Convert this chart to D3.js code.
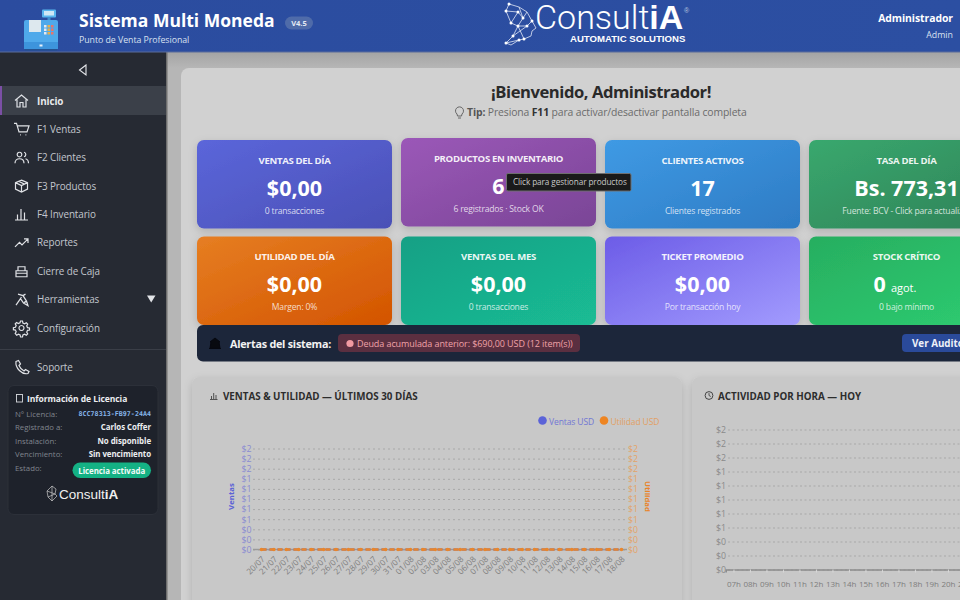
<!DOCTYPE html>
<html>
<head>
<meta charset="utf-8">
<script src="https://cdn.jsdelivr.net/npm/d3@7"></script>
<style>
html, body { margin: 0; padding: 0; background: #d0d0d0; overflow: hidden; }
svg { display: block; font-family: "Open Sans", "Noto Sans", sans-serif; }
</style>
</head>
<body>
<script>
// chart data
var fechas = ["20/07","21/07","22/07","23/07","24/07","25/07","26/07","27/07","28/07","29/07","30/07","31/07","01/08","02/08","03/08","04/08","05/08","06/08","07/08","08/08","09/08","10/08","11/08","12/08","13/08","14/08","15/08","16/08","17/08","18/08"];
var ventasUsd = [0,0,0,0,0,0,0,0,0,0,0,0,0,0,0,0,0,0,0,0,0,0,0,0,0,0,0,0,0,0];
var utilidadUsd = [0,0,0,0,0,0,0,0,0,0,0,0,0,0,0,0,0,0,0,0,0,0,0,0,0,0,0,0,0,0];
var horas = ["07h","08h","09h","10h","11h","12h","13h","14h","15h","16h","17h","18h","19h","20h","21h","22h"];
var actividadHora = [0,0,0,0,0,0,0,0,0,0,0,0,0,0,0,0];
var yTicks = [0,0.2,0.4,0.6,0.8,1,1.2,1.4,1.6,1.8,2];

// dashboard cards
var cardTitles = ["VENTAS DEL DÍA","PRODUCTOS EN INVENTARIO","CLIENTES ACTIVOS","TASA DEL DÍA","UTILIDAD DEL DÍA","VENTAS DEL MES","TICKET PROMEDIO","STOCK CRÍTICO"];
var cardValues = ["$0,00","6","17","Bs. 773,31","$0,00","$0,00","$0,00","0"];
var cardSubs = ["0 transacciones","6 registrados · Stock OK","Clientes registrados","Fuente: BCV - Click para actualizar","Margen: 0%","0 transacciones","Por transacción hoy","0 bajo mínimo"];
var cardFrom = ["#5b66da","#9b58b8","#3f9ae4","#39a86e","#e67e22","#17a085","#6c5ce7","#27ae60"];
var cardTo = ["#4a50b6","#7a4596","#2e7bc4","#2f8258","#d35400","#1abc94","#a29bfe","#2ecc71"];

// sidebar
var menuItems = ["Inicio","F1 Ventas","F2 Clientes","F3 Productos","F4 Inventario","Reportes","Cierre de Caja","Herramientas","Configuración"];
var licLabels = ["N° Licencia:","Registrado a:","Instalación:","Vencimiento:","Estado:"];
var licValues = ["8CC78313-FB97-24A4","Carlos Coffer","No disponible","Sin vencimiento","Licencia activada"];

var svg = d3.select("body").append("svg").attr("width", 960).attr("height", 600);
var defs = svg.append("defs");

function txt(parent, x, y, s, size, color, weight, anchor, spacing) {
  return parent.append("text")
    .attr("x", x).attr("y", y)
    .attr("font-size", size)
    .attr("fill", color)
    .attr("font-weight", weight || 400)
    .attr("text-anchor", anchor || "start")
    .attr("letter-spacing", spacing || null)
    .text(s);
}

function gradient(id, from, to, x2, y2) {
  var g = defs.append("linearGradient").attr("id", id)
    .attr("x1", 0).attr("y1", 0).attr("x2", x2).attr("y2", y2);
  g.append("stop").attr("offset", 0).attr("stop-color", from);
  g.append("stop").attr("offset", 1).attr("stop-color", to);
}

var shadow = defs.append("filter").attr("id", "soft")
  .attr("x", "-10%").attr("y", "-10%").attr("width", "120%").attr("height", "125%");
shadow.append("feDropShadow").attr("dx", 0).attr("dy", 3).attr("stdDeviation", 4)
  .attr("flood-color", "#000").attr("flood-opacity", 0.16);

gradient("topShade", "#a4a4a4", "#b6b6b6", 0, 1);

// background
svg.append("rect").attr("x", 167).attr("y", 52).attr("width", 793).attr("height", 548).attr("fill", "#b6b6b6");
svg.append("rect").attr("x", 167).attr("y", 52).attr("width", 793).attr("height", 16).attr("fill", "url(#topShade)");
svg.append("rect").attr("x", 181).attr("y", 68).attr("width", 800).attr("height", 560).attr("rx", 8).attr("fill", "#d1d1d1");

// welcome
txt(svg, 601, 98, "¡Bienvenido, Administrador!", 16.6, "#2a2a2a", 700, "middle", -0.45);
var tip = txt(svg, 467, 116, "", 10.4, "#6b6b6b", 400, "start", -0.12);
tip.append("tspan").attr("font-weight", 700).attr("fill", "#555").text("Tip: ");
tip.append("tspan").text("Presiona ");
tip.append("tspan").attr("font-weight", 700).attr("fill", "#333").text("F11");
tip.append("tspan").text(" para activar/desactivar pantalla completa");
svg.append("path").attr("transform", "translate(454,106)")
  .attr("d", "M3 8a4 4 0 1 1 5 0l-.5 2h-4zM4 12h3")
  .attr("fill", "none").attr("stroke", "#666").attr("stroke-width", 1);

// stat cards
var colX = d3.scalePoint().domain([0,1,2,3]).range([197,809]);
var rowY = d3.scalePoint().domain([0,1]).range([140,236.5]);
var cardData = cardTitles.map(function (t, i) {
  return { title: t, value: cardValues[i], sub: cardSubs[i], col: i % 4, row: i < 4 ? 0 : 1, i: i };
});
cardData.forEach(function (d) { gradient("card" + d.i, cardFrom[d.i], cardTo[d.i], 1, 1); });

var cards = svg.selectAll("g.card").data(cardData).enter().append("g")
  .attr("class", "card")
  .attr("transform", function (d) { return "translate(" + colX(d.col) + "," + (rowY(d.row) - (d.i === 1 ? 2 : 0)) + ")"; });
cards.append("rect").attr("width", 195).attr("height", 88.5).attr("rx", 7)
  .attr("fill", function (d) { return "url(#card" + d.i + ")"; })
  .attr("filter", "url(#soft)");
cards.append("text").attr("x", 97.5).attr("y", 23.5).attr("text-anchor", "middle")
  .attr("font-size", 9.6).attr("font-weight", 700).attr("fill", "#fff").attr("fill-opacity", 0.92)
  .attr("letter-spacing", -0.33)
  .text(function (d) { return d.title; });
cards.append("text").attr("x", 97.5).attr("y", 55.5).attr("text-anchor", "middle")
  .attr("font-size", 21.5).attr("font-weight", 700).attr("fill", "#fff")
  .text(function (d) { return d.value; })
  .filter(function (d) { return d.i === 7; })
  .attr("x", 86)
  .append("tspan").attr("font-size", 11).attr("font-weight", 400).attr("dx", 5).text("agot.");
cards.append("text").attr("x", 97.5).attr("y", 73.5).attr("text-anchor", "middle")
  .attr("font-size", 8.6).attr("fill", "#fff").attr("fill-opacity", 0.78)
  .attr("letter-spacing", -0.2)
  .text(function (d) { return d.sub; });

// tooltip over the products card
svg.append("rect").attr("x", 506.5).attr("y", 173.5).attr("width", 124.5).attr("height", 17.5).attr("rx", 1.5)
  .attr("fill", "#1a1a1a").attr("stroke", "#6f6f6f");
txt(svg, 513, 185, "Click para gestionar productos", 8.2, "#c9c9c9", 400, "start", -0.08);

// alerts bar
svg.append("rect").attr("x", 197).attr("y", 325).attr("width", 790).attr("height", 36.5).attr("rx", 6).attr("fill", "#1c263a");
svg.append("path").attr("transform", "translate(209,337)")
  .attr("d", "M1 5 6 1l5 4-1 0 1 6H1l1-6zM0 11.5h12")
  .attr("fill", "#080a10").attr("stroke", "#060810").attr("stroke-width", 1);
txt(svg, 230, 348, "Alertas del sistema:", 10.8, "#f2f2f2", 700, "start", -0.25);
svg.append("rect").attr("x", 338).attr("y", 334).attr("width", 242).attr("height", 18).attr("rx", 4).attr("fill", "#5b2f40");
svg.append("circle").attr("cx", 350).attr("cy", 343.5).attr("r", 3.6).attr("fill", "#f19aa2");
txt(svg, 357, 347, "Deuda acumulada anterior: $690,00 USD (12 item(s))", 9, "#f0a2a8", 400, "start", -0.08);
svg.append("rect").attr("x", 902).attr("y", 334).attr("width", 90).attr("height", 18).attr("rx", 4).attr("fill", "#2a4a9a");
txt(svg, 912, 347, "Ver Auditoría", 9.8, "#eef1f8", 700);

// chart panels
svg.append("rect").attr("x", 192).attr("y", 377).attr("width", 490).attr("height", 240).attr("rx", 8).attr("fill", "#c8c8c8").attr("filter", "url(#soft)");
svg.append("rect").attr("x", 692).attr("y", 377).attr("width", 300).attr("height", 240).attr("rx", 8).attr("fill", "#c8c8c8").attr("filter", "url(#soft)");
txt(svg, 223, 399.5, "VENTAS & UTILIDAD — ÚLTIMOS 30 DÍAS", 9.8, "#2d2d2d", 700);
txt(svg, 718, 399.5, "ACTIVIDAD POR HORA — HOY", 9.8, "#2d2d2d", 700);
svg.append("path").attr("transform", "translate(210,391)")
  .attr("d", "M0 8.5h7.5M1.5 8V5M3.7 8V2M6 8V4").attr("fill", "none").attr("stroke", "#444").attr("stroke-width", 0.9);
svg.append("g").attr("transform", "translate(709,395.5)").call(function (g) {
  g.append("circle").attr("r", 3.9).attr("fill", "none").attr("stroke", "#444");
  g.append("path").attr("d", "M0-2.4V0L1.8 1").attr("fill", "none").attr("stroke", "#444").attr("stroke-width", 0.9);
});

function styleAxis(g, color, size) {
  g.attr("font-family", null);
  g.selectAll("text").attr("fill", color).attr("font-size", size);
  return g;
}

// ventas & utilidad chart
var x1 = d3.scalePoint().domain(fechas).range([261.5, 621.5]);
var y1 = d3.scaleLinear().domain([0, 2]).range([549.5, 448.5]);
var money = d3.format("$.0f");

var grid1 = svg.append("g").attr("transform", "translate(253,0)")
  .call(d3.axisLeft(y1).tickValues(yTicks).tickSize(-374).tickFormat(money).tickPadding(1.5));
grid1.select(".domain").remove();
grid1.selectAll("line").attr("stroke", "#a8a8a8").attr("stroke-dasharray", "2,3");
styleAxis(grid1, "#8a8ad2", 8.8);

var right1 = svg.append("g").attr("transform", "translate(627,0)")
  .call(d3.axisRight(y1).tickValues(yTicks).tickSize(0).tickFormat(money).tickPadding(1));
right1.select(".domain").remove();
styleAxis(right1, "#e3a468", 8.8);

svg.append("line").attr("x1", 253).attr("x2", 627).attr("y1", y1(0)).attr("y2", y1(0)).attr("stroke", "#9a9a9a").attr("stroke-width", 1.5);

var bottom1 = svg.append("g").attr("transform", "translate(0,552)")
  .call(d3.axisBottom(x1).tickSize(0).tickPadding(0));
bottom1.select(".domain").remove();
styleAxis(bottom1, "#7e7e7e", 8.2);
bottom1.selectAll("text")
  .attr("text-anchor", "end")
  .attr("transform", "rotate(-45) translate(-3,2)");

var line1 = d3.line().x(function (d, i) { return x1(fechas[i]); }).y(function (d) { return y1(d); });
svg.append("path").datum(ventasUsd).attr("d", line1).attr("fill", "none").attr("stroke", "#5b63d8").attr("stroke-width", 2).attr("stroke-dasharray", "5,3");
svg.append("path").datum(utilidadUsd).attr("d", line1).attr("fill", "none").attr("stroke", "#e9862c").attr("stroke-width", 2.4).attr("stroke-dasharray", "5,3");
svg.selectAll("circle.util").data(utilidadUsd).enter().append("circle")
  .attr("class", "util")
  .attr("cx", function (d, i) { return x1(fechas[i]); })
  .attr("cy", function (d) { return y1(d); })
  .attr("r", 1.8).attr("fill", "#e9862c");

txt(svg, 0, 0, "Ventas", 7.8, "#5b62d6", 700, "middle").attr("transform", "translate(234,496.5) rotate(-90)");
txt(svg, 0, 0, "Utilidad", 7.8, "#e8842a", 700, "middle").attr("transform", "translate(645,496.5) rotate(90)");

svg.append("circle").attr("cx", 542.5).attr("cy", 420.5).attr("r", 4.3).attr("fill", "#5b63d8");
txt(svg, 549, 425, "Ventas USD", 8.5, "#7277d4", 400, "start", -0.1);
svg.append("circle").attr("cx", 604).attr("cy", 420.5).attr("r", 4.3).attr("fill", "#ee8522");
txt(svg, 610.5, 425, "Utilidad USD", 8.5, "#e2a064", 400, "start", -0.1);

// actividad por hora chart
var x2 = d3.scaleBand().domain(horas).range([725.7, 725.7 + 16.5 * horas.length]);
var y2 = d3.scaleLinear().domain([0, 2]).range([569.5, 429.5]);

var grid2 = svg.append("g").attr("transform", "translate(728,0)")
  .call(d3.axisLeft(y2).tickValues(yTicks).tickSize(-260).tickFormat(money).tickPadding(2));
grid2.select(".domain").remove();
grid2.selectAll("line").attr("stroke", "#a8a8a8").attr("stroke-dasharray", "2,2.5");
styleAxis(grid2, "#8a8a8a", 8.8);

var bottom2 = svg.append("g").attr("transform", "translate(0," + y2(0) + ")")
  .call(d3.axisBottom(x2).tickSize(3).tickPadding(9));
bottom2.select(".domain").attr("stroke", "#8a8a8a").attr("stroke-width", 1.5);
bottom2.selectAll("line").attr("stroke", "#d8d8d8");
styleAxis(bottom2, "#7d7d7d", 8);

svg.selectAll("rect.hora").data(actividadHora).enter().append("rect")
  .attr("class", "hora")
  .attr("x", function (d, i) { return x2(horas[i]) + 2; })
  .attr("width", x2.bandwidth() - 4)
  .attr("y", function (d) { return y2(d); })
  .attr("height", function (d) { return y2(0) - y2(d); })
  .attr("fill", "#5b63d8");

// sidebar
svg.append("rect").attr("x", 0).attr("y", 52).attr("width", 167).attr("height", 548).attr("fill", "#262a33");
svg.append("rect").attr("x", 166).attr("y", 52).attr("width", 1.5).attr("height", 548).attr("fill", "#6e6e6e");
svg.append("path").attr("d", "M86 65 79.5 70 86 75Z").attr("fill", "none").attr("stroke", "#e6e8ec").attr("stroke-width", 1.1);
svg.append("rect").attr("x", 0).attr("y", 86).attr("width", 166).attr("height", 29).attr("fill", "#3b4049");
svg.append("rect").attr("x", 0).attr("y", 86).attr("width", 2).attr("height", 29).attr("fill", "#7b4fa5");

var menuY = d3.scalePoint().domain(d3.range(menuItems.length)).range([101, 328]);
var icons = [
  "M0 6.5 6.5 1 13 6.5M2 5.5V13H5V8.5H8V13H11V5.5",
  "M-1 1H1.5L4 9.5H12L14 3.5H2.5M5 12.5h.8M10.5 12.5h.8",
  "M4.5 1.5a2.3 2.3 0 1 1-.01 0M0 12.5c0-3 2-4.5 4.5-4.5s4.5 1.5 4.5 4.5M9 1.5a2.3 2.3 0 0 1 0 4.5M10.5 8c2 .5 3 2 3 4.5",
  "M6.5 1 12.5 3.5V10L6.5 13 .5 10V3.5ZM.5 3.5 6.5 6.5 12.5 3.5M6.5 6.5V13M3.5 2.2 9.5 5",
  "M0 12.5H13M2.5 12V7M6 12V1.5M9.5 12V5",
  "M0 11 4.5 6.5 7 9 12.5 3.5M9 3H13V7",
  "M1 6.5H12V12.5H1ZM3 6.5V2.5H10V6.5M1 9H12",
  "M1 12.5 6.5 4.5M3 1.5 8 3 11.5 8.5 13 13 8.5 10.5 5.5 6M8 3 10.5 1.5M11.5 8.5 9 10",
  "M6.5 4.5a2.5 2.5 0 1 1-.01 0M5.5 0h2l.4 2 1.7.8 1.7-1 1.4 1.4-1 1.7.8 1.7 2 .4v2l-2 .4-.8 1.7 1 1.7-1.4 1.4-1.7-1-1.7.8-.4 2h-2l-.4-2-1.7-.8-1.7 1L.2 12.5l1-1.7-.8-1.7-2-.4v-2l2-.4.8-1.7-1-1.7L1.6 1.5l1.7 1 1.7-.8Z"
];
menuItems.forEach(function (name, i) {
  var yy = menuY(i);
  txt(svg, 37, yy + 3.5, name, 9.9, i === 0 ? "#e8e9ec" : "#c2c6cd", i === 0 ? 700 : 400, "start", -0.1);
  svg.append("path").attr("transform", "translate(15," + (yy - 7) + ")")
    .attr("d", icons[i]).attr("fill", "none").attr("stroke", "#e0e2e6").attr("stroke-width", 1.2);
});
svg.append("path").attr("d", "M147 295.5H155.5L151.2 302.5Z").attr("fill", "#e2e4e8");
svg.append("line").attr("x1", 0).attr("x2", 166).attr("y1", 349.5).attr("y2", 349.5).attr("stroke", "#3a3e47");
txt(svg, 37, 370.5, "Soporte", 9.9, "#c2c6cd", 400, "start", -0.1);
svg.append("path").attr("transform", "translate(15,360)")
  .attr("d", "M1 1.5 3.5.5 5.5 4 4 5.5C5 8 7 10 9 11L10.5 9.5 14 11.5 13 13.5C7 15 0 8 1 1.5Z")
  .attr("fill", "none").attr("stroke", "#e0e2e6").attr("stroke-width", 1.2);

// license box
svg.append("rect").attr("x", 8).attr("y", 385.5).attr("width", 150).attr("height", 129).attr("rx", 6)
  .attr("fill", "#1e222b").attr("stroke", "#2c3039");
svg.append("rect").attr("x", 16.5).attr("y", 394.5).attr("width", 6).attr("height", 7.5).attr("fill", "none").attr("stroke", "#d8dade").attr("stroke-width", 0.9);
txt(svg, 27, 401.5, "Información de Licencia", 8.5, "#eceef1", 700, "start", -0.05);
var licY = d3.scalePoint().domain(d3.range(licLabels.length)).range([416.5, 471]);
licLabels.forEach(function (label, i) {
  txt(svg, 15, licY(i), label, 7.8, "#80858e");
  if (i === 0) {
    txt(svg, 151, licY(i) - 1, licValues[i], 6.7, "#86b5ea", 700, "end").attr("font-family", "DejaVu Sans Mono");
  } else if (i < 4) {
    txt(svg, 151, licY(i), licValues[i], 7.9, "#eceef1", 700, "end", -0.05);
  }
});
svg.append("rect").attr("x", 72.5).attr("y", 462.5).attr("width", 78.5).attr("height", 15.5).attr("rx", 7.7).attr("fill", "#14b184");
txt(svg, 111.7, 473.5, licValues[4], 7.9, "#f2fbf8", 700, "middle", -0.05);

// small logo in the license box
var smallLogo = txt(svg, 59, 499, "Consult", 13.5, "#f0f0f0").attr("font-family", "Liberation Sans");
smallLogo.append("tspan").attr("font-weight", 700).text("iA");
svg.append("path").attr("transform", "translate(46,485)")
  .attr("d", "M6 1 10 4 9 9 11 11 6 16 2 12 1 6ZM1 6 9 9M6 1 6 16M2 12 9 9")
  .attr("fill", "none").attr("stroke", "#c8c8c8").attr("stroke-width", 0.7);

// header
gradient("headGrad", "#2b4c9f", "#2c4fa2", 1, 0);
svg.append("rect").attr("width", 960).attr("height", 52).attr("fill", "url(#headGrad)");
svg.append("rect").attr("y", 51.5).attr("width", 960).attr("height", 1).attr("fill", "#5a6d9c");

// cash register icon
var reg = svg.append("g").attr("transform", "translate(23,9)");
reg.append("rect").attr("x", 19).attr("y", 0.5).attr("width", 14).attr("height", 8).attr("rx", 1).attr("fill", "#58b5ee");
reg.append("rect").attr("x", 21).attr("y", 2).attr("width", 10).attr("height", 4.5).attr("fill", "#cfe7f5");
reg.append("rect").attr("x", 24.5).attr("y", 8).attr("width", 3).attr("height", 4).attr("fill", "#3f8fcf");
reg.append("rect").attr("x", 1).attr("y", 11).attr("width", 34).attr("height", 29).attr("rx", 2).attr("fill", "#4fa9ea");
reg.append("rect").attr("x", 6).attr("y", 11).attr("width", 12).attr("height", 12).attr("fill", "#dde8ee");
reg.append("rect").attr("x", 1).attr("y", 33).attr("width", 34).attr("height", 7).attr("fill", "#3d94dc");
reg.append("rect").attr("x", 16.5).attr("y", 35.5).attr("width", 3).attr("height", 2).attr("fill", "#e8f2fa");
reg.append("rect").attr("x", 2).attr("y", 40).attr("width", 32).attr("height", 1.5).attr("fill", "#25528f");
d3.range(9).forEach(function (k) {
  reg.append("rect").attr("x", 21 + (k % 3) * 3.5).attr("y", 16 + Math.floor(k / 3) * 3.5)
    .attr("width", 2.5).attr("height", 2.5)
    .attr("fill", ["#e6e9ef", "#e8b04a", "#e8746a"][k % 3]);
});

txt(svg, 79, 26.5, "Sistema Multi Moneda", 17.5, "#fff", 700);
svg.append("rect").attr("x", 285).attr("y", 16.5).attr("width", 28).attr("height", 13).attr("rx", 6.5).attr("fill", "#4f6ba9");
txt(svg, 299, 26, "V4.5", 7.5, "#e4e9f3", 700, "middle");
txt(svg, 79, 43, "Punto de Venta Profesional", 8.8, "#d8e0f0", 400, "start", -0.05);

// brand logo
var brand = txt(svg, 535, 29, "Consult", 34, "#fff", 300).attr("font-family", "Roboto");
brand.append("tspan").attr("font-weight", 700).attr("font-family", "Liberation Sans").text("iA");
txt(svg, 570, 42, "AUTOMATIC SOLUTIONS", 9.6, "#fff", 700).attr("font-family", "Liberation Sans");
txt(svg, 684, 13, "®", 7, "#b8c4de").attr("font-family", "Liberation Sans");
var head = svg.append("g").attr("transform", "translate(505,3)");
head.append("path")
  .attr("d", "M4 1 14 4 22 9 27 18 31 25 27 28 26 33 19 36 14 37 6 42 1 40 8 33 13 23 6 20 1 8 4 1M1 8 13 9 18 15 13 23 22 23 27 18M14 4 18 15M13 23 19 36M8 33 22 23M1 40 14 37M6 20 13 9M22 9 18 15")
  .attr("fill", "none").attr("stroke", "#dfe6f5").attr("stroke-width", 0.8);
head.selectAll("circle").data(["4,1","1,8","13,9","18,15","13,23","6,20","22,23","27,18","19,36","8,33","1,40","14,37"]).enter().append("circle")
  .attr("cx", function (d) { return +d.split(",")[0]; })
  .attr("cy", function (d) { return +d.split(",")[1]; })
  .attr("r", 1.5).attr("fill", "#fff");

txt(svg, 953, 22, "Administrador", 10.4, "#fff", 700, "end", -0.05);
txt(svg, 953, 38, "Admin", 8.8, "#d8e0f0", 400, "end");
</script>
</body>
</html>
